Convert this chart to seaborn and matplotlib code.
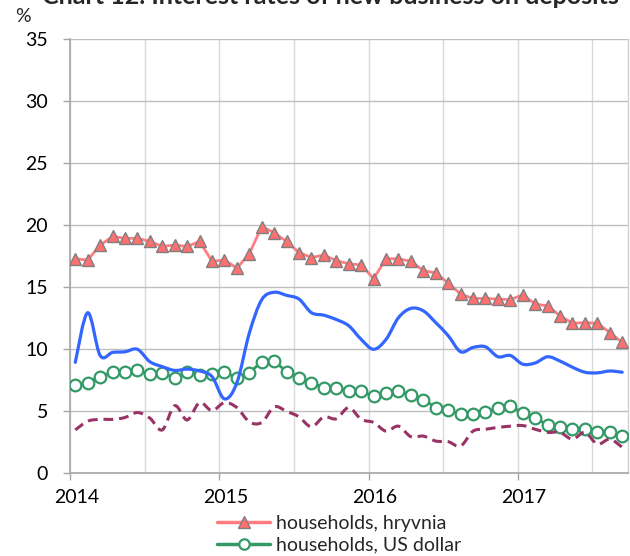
import numpy as np
import pandas as pd
import matplotlib
matplotlib.use("Agg")
import matplotlib.pyplot as plt
import seaborn as sns
from matplotlib.transforms import ScaledTranslation
from matplotlib.lines import Line2D
from matplotlib.path import Path
from matplotlib.patches import PathPatch

# ---- data ----
months = pd.period_range("2014-01", "2017-09", freq="M")

hh_uah = [17.3, 17.2, 18.4, 19.1, 18.95, 18.95, 18.7, 18.3, 18.4, 18.3, 18.7, 17.1,
          17.2, 16.55, 17.7, 19.9, 19.4, 18.7, 17.8, 17.4, 17.6, 17.15, 16.9, 16.8,
          15.7, 17.3, 17.3, 17.1, 16.35, 16.15, 15.35, 14.45, 14.1, 14.1, 14.05, 14.0,
          14.4, 13.65, 13.5, 12.7, 12.1, 12.15, 12.1, 11.35, 10.55]

hh_usd = [7.1, 7.3, 7.8, 8.15, 8.2, 8.3, 8.0, 8.1, 7.7, 8.2, 7.95, 8.0,
          8.2, 7.65, 8.1, 9.0, 9.05, 8.2, 7.7, 7.3, 6.9, 6.9, 6.65, 6.65,
          6.2, 6.45, 6.65, 6.3, 5.95, 5.3, 5.1, 4.75, 4.75, 4.95, 5.25, 5.4,
          4.9, 4.45, 3.9, 3.7, 3.55, 3.55, 3.35, 3.3, 3.0]

corp_uah = [8.95, 12.95, 9.5, 9.75, 9.8, 10.0, 9.0, 8.6, 8.3, 8.4, 8.25, 7.8,
            6.0, 7.3, 11.3, 14.0, 14.6, 14.35, 14.05, 12.95, 12.75, 12.4, 11.9, 10.8,
            10.0, 10.8, 12.55, 13.3, 13.1, 12.15, 11.1, 9.8, 10.15, 10.2, 9.4, 9.5,
            8.8, 8.9, 9.4, 9.05, 8.55, 8.15, 8.1, 8.25, 8.15]

corp_usd = [3.5, 4.2, 4.35, 4.35, 4.5, 4.9, 4.45, 3.5, 5.45, 4.3, 5.7, 5.05,
            5.7, 5.3, 4.15, 4.1, 5.35, 5.0, 4.55, 3.75, 4.55, 4.4, 5.3, 4.35,
            4.1, 3.4, 3.8, 2.95, 3.0, 2.6, 2.55, 2.2, 3.4, 3.55, 3.7, 3.8,
            3.85, 3.55, 3.3, 3.3, 2.75, 3.3, 2.35, 2.75, 2.1]

legend_labels = ["households, hryvnia", "households, US dollar"]
title = "Chart 12. Interest rates of new business on deposits"
y_ticks = [0, 5, 10, 15, 20, 25, 30, 35]
x_years = [2014, 2015, 2016, 2017]

# decimal-year position of each monthly observation
t = months.year + (months.month - 1 + 0.4) / 12.0
df = pd.DataFrame({"t": t, "hh_uah": hh_uah, "hh_usd": hh_usd,
                   "corp_uah": corp_uah, "corp_usd": corp_usd})


def smooth_line(ax, x, y, **kw):
    """Draw a smoothed (Excel-style Bezier) line through the data points."""
    pts = np.column_stack([np.asarray(x, float), np.asarray(y, float)])
    n = len(pts)
    verts = [pts[0]]
    codes = [Path.MOVETO]
    for i in range(n - 1):
        p0 = pts[max(i - 1, 0)]
        p1 = pts[i]
        p2 = pts[i + 1]
        p3 = pts[min(i + 2, n - 1)]
        verts += [p1 + (p2 - p0) / 6.0, p2 - (p3 - p1) / 6.0, p2]
        codes += [Path.CURVE4] * 3
    patch = PathPatch(Path(verts, codes), facecolor="none", **kw)
    ax.add_patch(patch)
    return patch


# ---- style ----
sns.set_style("white")
plt.rcParams["font.family"] = ["Lato", "DejaVu Sans"]
plt.rcParams["font.size"] = 14

W, H = 630, 556
fig = plt.figure(figsize=(W / 100, H / 100), dpi=100)
ax_left, ax_right, ax_top, ax_bottom = 70.3, 628.0, 39.3, 473.3
ax = fig.add_axes([ax_left / W, 1 - ax_bottom / H,
                   (ax_right - ax_left) / W, (ax_bottom - ax_top) / H])

c_uah = "#FF7C80"
c_usd = "#339966"
c_blue = "#3366FF"
c_maroon = "#993366"

sns.lineplot(data=df, x="t", y="hh_uah", ax=ax, color=c_uah, lw=2.0,
             marker="^", markersize=9.2, markerfacecolor="#FF7070",
             markeredgecolor="#7F7F7F", markeredgewidth=1.0, zorder=3)
sns.lineplot(data=df, x="t", y="hh_usd", ax=ax, color=c_usd, lw=2.0,
             marker="o", markersize=8.4, markerfacecolor="white",
             markeredgecolor=c_usd, markeredgewidth=1.6, zorder=3)
smooth_line(ax, df["t"], df["corp_uah"], edgecolor=c_blue, lw=2.3,
            capstyle="round", joinstyle="round", zorder=4)
smooth_line(ax, df["t"], df["corp_usd"], edgecolor=c_maroon, lw=2.2,
            linestyle=(0, (3.2, 1.9)), capstyle="butt", joinstyle="round", zorder=4)

ax.set_xlim(2014, 2017 + (ax_right - 517.8) / 149.17)
ax.set_ylim(0, 35)
ax.set_yticks(y_ticks)
ax.set_xticks(x_years)
ax.set_xticklabels([str(y) for y in x_years])
ax.set_xticks([y + 0.5 for y in x_years], minor=True)
ax.set_xlabel("")
ax.set_ylabel("")

ax.grid(True, axis="y", color="#BFBFBF", lw=1.0, zorder=0)
ax.grid(True, axis="x", which="both", color="#D9D9D9", lw=1.0, zorder=0)
ax.set_axisbelow(True)

for s in ["left", "bottom"]:
    ax.spines[s].set_color("#A6A6A6")
    ax.spines[s].set_linewidth(1.2)
ax.spines["top"].set_visible(False)
ax.spines["right"].set_color("#D0D0D0")
ax.spines["right"].set_linewidth(1.0)

ax.tick_params(axis="y", which="major", left=True, length=5, width=1,
               color="#A6A6A6", pad=11, labelsize=14, labelcolor="black")
ax.tick_params(axis="x", which="major", bottom=True, length=5, width=1,
               color="#A6A6A6", pad=6, labelsize=14, labelcolor="black")
ax.tick_params(axis="x", which="minor", bottom=False, length=0)

off = ScaledTranslation(6 / 100, 0, fig.dpi_scale_trans)
for lab in ax.get_xticklabels():
    lab.set_transform(lab.get_transform() + off)

fig.text(22.5 / W, 1 - 22 / H, "%", ha="center", va="baseline", fontsize=14)
fig.text(330 / W, 1 - 4.5 / H, title, ha="center", va="baseline",
         fontsize=18, fontweight="bold")

handles = [
    Line2D([], [], color=c_uah, lw=2.5, marker="^", markersize=8,
           markerfacecolor="#FF7070", markeredgecolor="#7F7F7F", markeredgewidth=1.0),
    Line2D([], [], color=c_usd, lw=2.5, marker="o", markersize=7.5,
           markerfacecolor="white", markeredgecolor=c_usd, markeredgewidth=1.6),
]
fig.legend(handles, legend_labels, loc="center",
           bbox_to_anchor=(339 / W, 1 - 534 / H), frameon=False, fontsize=14,
           handlelength=2.75, handletextpad=0.3, labelspacing=0.25, borderpad=0,
           borderaxespad=0)

fig.savefig("out.png", dpi=100)
